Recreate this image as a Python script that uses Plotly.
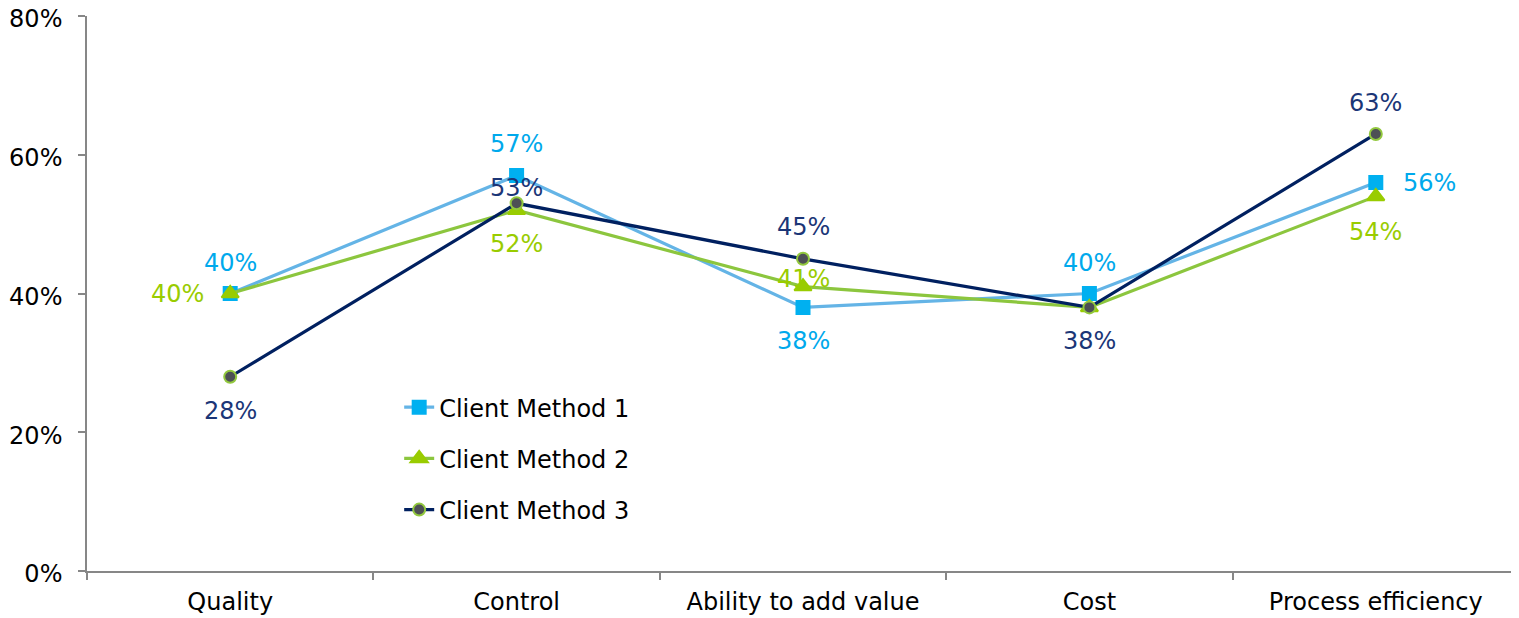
import plotly.graph_objects as go

categories = ["Quality", "Control", "Ability to add value", "Cost", "Process efficiency"]
series_names = ["Client Method 1", "Client Method 2", "Client Method 3"]
method1 = [0.40, 0.57, 0.38, 0.40, 0.56]
method2 = [0.40, 0.52, 0.41, 0.38, 0.54]
method3 = [0.28, 0.53, 0.45, 0.38, 0.63]
y_ticks = [0, 0.2, 0.4, 0.6, 0.8]

# styling
FONT = "Verdana, DejaVu Sans, sans-serif"
FS = 24
line_colors = ["#64B4E6", "#8CC63E", "#002060"]
marker_colors = ["#00B0F0", "#99CC00", "#4D5055"]
marker_lines = ["#00B0F0", "#99CC00", "#92C83E"]
label_colors = ["#00A9EC", "#99CC00", "#1B3677"]
symbols = ["square", "triangle-up", "circle"]
sizes = [13, 15, 12]
# label placement per point: (xshift, yshift), None = hidden
placements = [
    [(0, 31), (0, 32), (0, -34), (0, 31), (54, 0)],
    [(-53, 0), (0, -34), (0, 8), None, (0, -36)],
    [(0, -34), (0, 15), (0, 32), (0, -34), (0, 31)],
]

data = [method1, method2, method3]
fig = go.Figure()
for i, (name, vals) in enumerate(zip(series_names, data)):
    fig.add_trace(go.Scatter(
        x=categories, y=vals, name=name, mode="lines+markers",
        line=dict(color=line_colors[i], width=3.2),
        marker=dict(symbol=symbols[i], size=sizes[i], color=marker_colors[i],
                    line=dict(color=marker_lines[i], width=2)),
        legendgroup=f"g{i}",
    ))

annotations = []
for i, vals in enumerate(data):
    for j, v in enumerate(vals):
        p = placements[i][j]
        if p is None:
            continue
        annotations.append(dict(
            x=categories[j], y=v, xref="x", yref="y",
            text=f"{round(v*100)}%", showarrow=False,
            xshift=p[0], yshift=p[1],
            font=dict(family=FONT, size=FS, color=label_colors[i]),
        ))

fig.update_layout(
    width=1511, height=610,
    margin=dict(l=79, r=0, t=8, b=47),
    paper_bgcolor="white", plot_bgcolor="white",
    font=dict(family=FONT, size=FS, color="#000000"),
    annotations=annotations,
    showlegend=True,
    legend=dict(x=0.218, y=0.335, xanchor="left", yanchor="top",
                bgcolor="rgba(0,0,0,0)", tracegroupgap=17,
                font=dict(family=FONT, size=FS, color="#000000")),
    xaxis=dict(
        type="category", range=[-0.5, 4.5], showline=True, linecolor="#878787",
        linewidth=1.5, ticks="outside", tickson="boundaries", ticklen=7,
        tickcolor="#878787", tickwidth=1.5, showgrid=False, zeroline=False,
        ticklabelstandoff=8, automargin=False, ticklabeloverflow="allow",
        tickfont=dict(family=FONT, size=FS, color="#000000"),
    ),
    yaxis=dict(
        range=[0, 0.8], tickvals=y_ticks, tickformat=".0%", showline=True,
        linecolor="#878787", linewidth=1.5, ticks="outside", ticklen=7,
        tickcolor="#878787", tickwidth=1.5, showgrid=False, zeroline=False,
        ticklabelstandoff=11, ticklabelshift=3, automargin=False,
        ticklabeloverflow="allow",
        tickfont=dict(family=FONT, size=FS, color="#000000"),
    ),
)

fig.write_html("out.html")
